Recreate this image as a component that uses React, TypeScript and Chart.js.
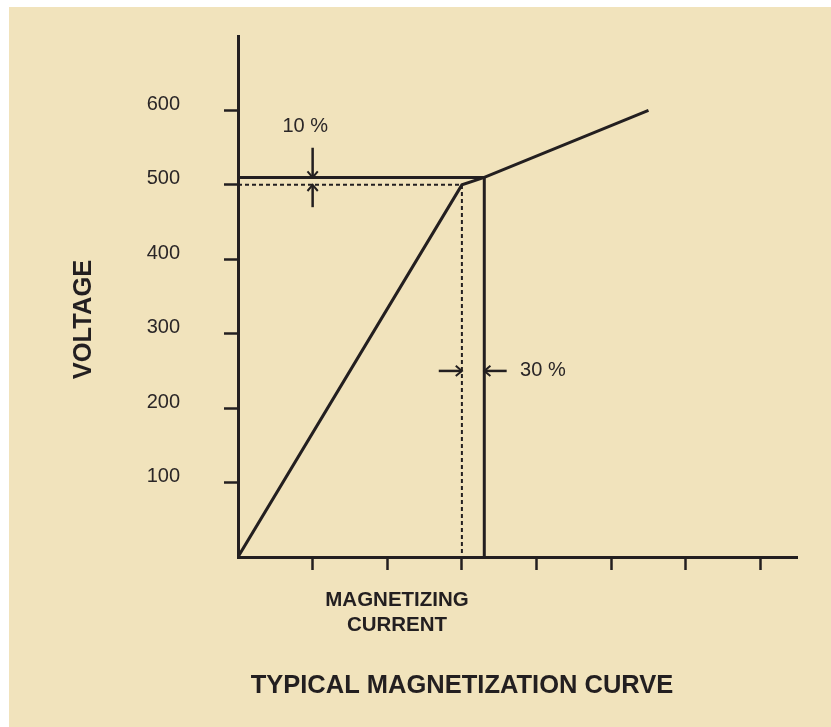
import React, { useEffect, useRef } from 'react';
import { Chart, registerables } from 'chart.js';

Chart.register(...registerables);

// Axis ranges
const currentMax = 7.49;
const voltageMax = 700;
const voltageStep = 100;
const currentStep = 1;

// Magnetization curve (current units, volts)
const curveCurrent = [0, 3.0, 3.3, 5.5];
const curveVoltage = [0, 500, 510, 600];

// Saturation (knee-point) lines, solid
const saturationCurrent = [0, 3.3, 3.3];
const saturationVoltage = [510, 510, 0];

// Knee reference lines, dashed
const kneeCurrent = [0, 3.0, 3.0];
const kneeVoltage = [500, 500, 0];

// Dimension arrows
const tenTopCurrent = [1.0, 1.0];
const tenTopVoltage = [550, 510];
const tenBottomCurrent = [1.0, 1.0];
const tenBottomVoltage = [470, 500];
const thirtyLeftCurrent = [2.69, 3.0];
const thirtyLeftVoltage = [250, 250];
const thirtyRightCurrent = [3.6, 3.3];
const thirtyRightVoltage = [250, 250];

// Annotation labels
const tenLabel = '10 %';
const tenLabelAt = [0.9, 578];
const thirtyLabel = '30 %';
const thirtyLabelAt = [3.78, 250];
const yTitle = 'VOLTAGE';
const xTitleLines = ['MAGNETIZING', 'CURRENT'];
const mainTitle = 'TYPICAL MAGNETIZATION CURVE';

const INK = '#231f20';
const BG = '#f1e3bc';
const FONT = '"Liberation Sans", Arial, Helvetica, sans-serif';

const pts = (xs: number[], ys: number[]) => xs.map((x, i) => ({ x, y: ys[i] }));

const arrowPlugin = {
  id: 'arrowHeads',
  afterDatasetsDraw(chart: any) {
    const ctx = chart.ctx;
    chart.data.datasets.forEach((ds: any, i: number) => {
      if (!ds.arrow) return;
      const meta = chart.getDatasetMeta(i);
      const d = meta.data;
      const p1 = d[d.length - 2];
      const p2 = d[d.length - 1];
      const ang = Math.atan2(p2.y - p1.y, p2.x - p1.x);
      const len = 8;
      const spread = (40 * Math.PI) / 180;
      ctx.save();
      ctx.strokeStyle = INK;
      ctx.lineWidth = 2;
      ctx.beginPath();
      ctx.moveTo(p2.x - len * Math.cos(ang - spread), p2.y - len * Math.sin(ang - spread));
      ctx.lineTo(p2.x, p2.y);
      ctx.lineTo(p2.x - len * Math.cos(ang + spread), p2.y - len * Math.sin(ang + spread));
      ctx.stroke();
      ctx.restore();
    });
  },
};

const textPlugin = {
  id: 'texts',
  afterDraw(chart: any) {
    const ctx = chart.ctx;
    const xs = chart.scales.x;
    const ys = chart.scales.y;
    ctx.save();
    ctx.fillStyle = '#2a2627';
    ctx.textBaseline = 'middle';
    ctx.font = `20px ${FONT}`;
    ctx.textAlign = 'center';
    ctx.fillText(tenLabel, xs.getPixelForValue(tenLabelAt[0]), ys.getPixelForValue(tenLabelAt[1]));
    ctx.textAlign = 'left';
    ctx.fillText(thirtyLabel, xs.getPixelForValue(thirtyLabelAt[0]), ys.getPixelForValue(thirtyLabelAt[1]));

    ctx.fillStyle = INK;
    ctx.font = `bold 20.5px ${FONT}`;
    ctx.textAlign = 'center';
    ctx.fillText(xTitleLines[0], 388, 593);
    ctx.fillText(xTitleLines[1], 388, 618);

    ctx.font = `bold 25.5px ${FONT}`;
    ctx.fillText(mainTitle, 453, 678.5);

    ctx.save();
    ctx.translate(75, 312.5);
    ctx.rotate(-Math.PI / 2);
    ctx.font = `bold 25.5px ${FONT}`;
    ctx.fillText(yTitle, 0, 0);
    ctx.restore();
    ctx.restore();
  },
};

export default function App() {
  const ref = useRef<HTMLCanvasElement | null>(null);

  useEffect(() => {
    if (!ref.current) return;
    const solid = { borderColor: INK, borderWidth: 3, pointRadius: 0, showLine: true, fill: false, tension: 0 };
    const arrow = { borderColor: INK, borderWidth: 2.5, pointRadius: 0, showLine: true, fill: false, arrow: true };
    const chart = new Chart(ref.current, {
      type: 'scatter',
      data: {
        datasets: [
          { ...solid, data: pts(curveCurrent, curveVoltage) },
          { ...solid, data: pts(saturationCurrent, saturationVoltage) },
          { ...solid, borderWidth: 2, borderDash: [4, 3], data: pts(kneeCurrent, kneeVoltage) },
          { ...arrow, data: pts(tenTopCurrent, tenTopVoltage) },
          { ...arrow, data: pts(tenBottomCurrent, tenBottomVoltage) },
          { ...arrow, data: pts(thirtyLeftCurrent, thirtyLeftVoltage) },
          { ...arrow, data: pts(thirtyRightCurrent, thirtyRightVoltage) },
        ] as any,
      },
      options: {
        animation: false,
        responsive: false,
        devicePixelRatio: 1,
        layout: { padding: { left: 0, top: 29, right: 34, bottom: 0 } },
        plugins: { legend: { display: false }, tooltip: { enabled: false }, title: { display: false } },
        scales: {
          x: {
            type: 'linear',
            min: 0,
            max: currentMax,
            border: { display: true, color: INK, width: 3 },
            grid: {
              drawOnChartArea: false,
              drawTicks: true,
              tickLength: 13,
              tickWidth: 2.5,
              tickColor: (c: any) => (c.tick && c.tick.value === 0 ? 'rgba(0,0,0,0)' : INK),
            },
            ticks: { display: false, stepSize: currentStep, includeBounds: false },
            afterFit: (s: any) => {
              s.height = 170;
              s.paddingLeft = 0; s.paddingRight = 0; s.paddingTop = 0; s.paddingBottom = 0;
            },
          },
          y: {
            type: 'linear',
            min: 0,
            max: voltageMax,
            border: { display: true, color: INK, width: 3 },
            grid: {
              drawOnChartArea: false,
              drawTicks: true,
              tickLength: 14,
              tickWidth: 2.5,
              tickColor: (c: any) => (c.tick && (c.tick.value === 0 || c.tick.value === voltageMax) ? 'rgba(0,0,0,0)' : INK),
            },
            ticks: {
              stepSize: voltageStep,
              includeBounds: false,
              padding: 44,
              labelOffset: -6,
              color: '#2a2627',
              font: { family: FONT, size: 20 },
              callback: (v: any) => (v === 0 || v === voltageMax ? '' : String(v)),
            },
            afterFit: (s: any) => {
              s.width = 229;
              s.paddingLeft = 0; s.paddingRight = 0; s.paddingTop = 0; s.paddingBottom = 0;
            },
          },
        },
      } as any,
      plugins: [arrowPlugin, textPlugin],
    });
    return () => chart.destroy();
  }, []);

  return (
    <div style={{ position: 'absolute', left: 9, top: 7, width: 822, height: 720, background: BG }}>
      <canvas ref={ref} width={822} height={720} style={{ display: 'block' }} />
    </div>
  );
}
